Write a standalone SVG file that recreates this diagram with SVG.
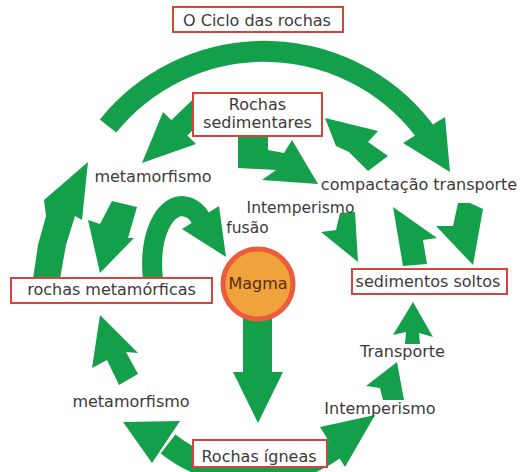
<svg xmlns="http://www.w3.org/2000/svg" width="520" height="472" viewBox="0 0 520 472">
<style>
.g{fill:#14a04a;stroke:none}
.s{fill:none;stroke:#14a04a;stroke-linecap:butt}
.box{fill:#fff;stroke:#d6453d;stroke-width:2}
.t{font-family:"DejaVu Sans","Verdana",sans-serif;font-size:16px;fill:#3d3a3a;text-anchor:middle}
.mt{font-family:"DejaVu Sans","Verdana",sans-serif;font-size:16px;fill:#5a2d0c;text-anchor:middle}
</style>
<rect width="520" height="472" fill="#fff"/>
<g id="connectors">
  <!-- top big arc -->
  <path class="s" stroke-width="21" d="M108 126 A201 201 0 0 1 429 137"/>
  <polygon class="g" points="403,143 445,117 450,172"/>
  <!-- sedimentares to metamorfismo -->
  <path class="s" stroke-width="22" d="M203 105 L176 131"/>
  <polygon class="g" points="163,112 196,144 142,163"/>
  <!-- sedimentares to compactacao (L) -->
  <polygon class="g" points="238,136 268,136 268,150 284,153 292,140 318,184 262,180 276,170 238,168"/>
  <!-- compactacao to sedimentares -->
  <polygon class="g" points="325,118 378,131 368,142 388,156 368,171 349,152 336,146"/>
  <!-- intemperismo to sedimentos soltos -->
  <polygon class="g" points="340,213 355,212 358,262 321,232 336,230"/>
  <!-- sedimentos soltos to compactacao -->
  <polygon class="g" points="393,207 437,238 423,240 427,264 403,266"/>
  <!-- transporte to sedimentos soltos -->
  <polygon class="g" points="458,203 470,203 483,209 473,265 436,226 453,226"/>
  <!-- left big up arrow -->
  <polygon class="g" points="33,279 38,245 46,216 44,200 88,162 82,220 75,216 66,245 60,279"/>
  <!-- metamorfismo down to rochas metamorficas -->
  <polygon class="g" points="112,201 137,207 128,238 134,238 100,273 88,220 100,224"/>
  <!-- fusao arc -->
  <path class="s" stroke-width="20" d="M153 280 C148 232 166 206 182 206 C192 207 197 212 201 219"/>
  <polygon class="g" points="182,229 219,206 226,257"/>
  <!-- magma to igneas -->
  <polygon class="g" points="243,318 272,318 272,372 283,372 258,423 233,372 243,372"/>
  <!-- bottom arc -->
  <path class="s" stroke-width="24" d="M168 444 A139 139 0 0 0 334 448"/>
  <polygon class="g" points="180,421 152,463 123,422"/>
  <polygon class="g" points="320,427 345,467 375,415"/>
  <!-- lower metamorfismo up arrow -->
  <polygon class="g" points="100,315 138,353 126,352 138,374 119,385 107,360 92,368"/>
  <!-- intemperismo to transporte -->
  <polygon class="g" points="397,362 404,400 383,400 380,388 366,386"/>
  <!-- transporte to sedimentos soltos -->
  <polygon class="g" points="413,302 433,337 419,333 420,344 405,344 406,332 393,335"/>
</g>
<g id="title">
  <rect class="box" x="173" y="7" width="170" height="25"/>
  <text class="t" x="257" y="26">O Ciclo das rochas</text>
</g>
<g id="rochas-sedimentares">
  <rect class="box" x="193" y="93" width="129" height="43"/>
  <text class="t" x="257.5" y="110">Rochas</text>
  <text class="t" x="257.5" y="128">sedimentares</text>
</g>
<g id="rochas-metamorficas">
  <rect class="box" x="11" y="278" width="201" height="25"/>
  <text class="t" x="111.5" y="295">rochas metamórficas</text>
</g>
<g id="sedimentos-soltos">
  <rect class="box" x="352" y="269" width="155" height="25"/>
  <text class="t" x="428" y="287">sedimentos soltos</text>
</g>
<g id="rochas-igneas">
  <rect class="box" x="193" y="440" width="134" height="27"/>
  <text class="t" x="259" y="462">Rochas ígneas</text>
</g>
<g id="magma">
  <circle cx="258" cy="284" r="35" fill="#f0a23c" stroke="#ec5b3c" stroke-width="5"/>
  <text class="mt" x="258" y="289">Magma</text>
</g>
<g id="labels">
  <text class="t" x="153" y="182">metamorfismo</text>
  <text class="t" x="419" y="190">compactação transporte</text>
  <text class="t" x="300.5" y="213" style="font-size:15.5px">Intemperismo</text>
  <text class="t" x="247.5" y="233" style="font-size:15.5px">fusão</text>
  <text class="t" x="402.5" y="357">Transporte</text>
  <text class="t" x="380" y="414">Intemperismo</text>
  <text class="t" x="131" y="407">metamorfismo</text>
</g>
</svg>
